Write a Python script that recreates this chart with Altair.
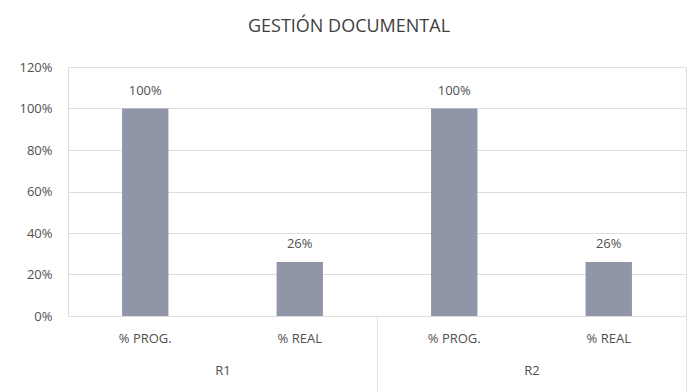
import altair as alt
import pandas as pd

groups = ["R1", "R1", "R2", "R2"]
series = ["% PROG.", "% REAL", "% PROG.", "% REAL"]
values = [1.00, 0.26, 1.00, 0.26]
value_labels = ["100%", "26%", "100%", "26%"]
group_names = ["R1", "R2"]
y_ticks = [0, 0.2, 0.4, 0.6, 0.8, 1.0, 1.2]

FONT = "Open Sans"
TXT = "#505050"
df = pd.DataFrame({"group": groups, "series": series, "value": values, "label": value_labels})
df["key"] = df["group"] + "|" + df["series"]
keys = list(df["key"])

x_scale = alt.Scale(paddingInner=0.7, paddingOuter=0.35)
x_enc = alt.X(
    "key:N",
    sort=keys,
    scale=x_scale,
    axis=alt.Axis(
        orient="bottom",
        title=None,
        labelExpr="split(datum.value, '|')[1]",
        domain=False,
        ticks=False,
        grid=False,
        gridColor="green",
        domainColor="green",
        labelAngle=0,
        labelPadding=16,
        labelFont=FONT,
        labelFontSize=13,
        labelColor=TXT,
    ),
)

y_enc = alt.Y(
    "value:Q",
    scale=alt.Scale(domain=[0, 1.2], nice=False),
    axis=alt.Axis(
        title=None,
        values=y_ticks,
        format=".0%",
        domain=False,
        domainColor="blue",
        tickColor="blue",
        ticks=False,
        labelPadding=16,
        labelFont=FONT,
        labelFontSize=13,
        labelColor=TXT,
        gridColor="#dedede",
        gridWidth=1,
    ),
)

base = alt.Chart(df)
bars = base.mark_bar(color="#9095a8").encode(x=x_enc, y=y_enc)
texts = base.mark_text(
    baseline="alphabetic", dy=-14, font=FONT, fontSize=13, color=TXT
).encode(x=x_enc, y=y_enc, text="label:N")

gdf = pd.DataFrame({"group": group_names})
group_layer = alt.Chart(gdf).mark_text(text="").encode(
    x=alt.X(
        "group:N",
        sort=group_names,
        scale=alt.Scale(paddingInner=0, paddingOuter=0),
        axis=alt.Axis(
            orient="bottom",
            title=None,
            domain=False,
            grid=False,
            gridColor="orange",
            domainColor="orange",
            tickExtra=False,
            tickSize=76,
            tickColor="#e3e3e3",
            tickOffset=154.5,
            labelOffset=-154.5,
            labelPadding=-28,
            labelAngle=0,
            labelFont=FONT,
            labelFontSize=13,
            labelColor=TXT,
        ),
    ),
)

chart = (
    alt.layer(bars + texts, group_layer)
    .resolve_scale(x="independent")
    .resolve_axis(x="independent")
    .properties(
        width=618,
        height=249,
        padding={"left": 68, "top": 67, "right": 11, "bottom": 76},
        autosize=alt.AutoSizeParams(type="none"),
        title=alt.TitleParams(
            "GESTIÓN DOCUMENTAL",
            font=FONT,
            fontSize=18,
            fontWeight="normal",
            color="#404040",
            anchor="middle",
            dx=-28,
            offset=25,
        ),
    )
    .configure_view(stroke=None, strokeWidth=0)
    .configure(background="white")
)

chart.save("out.html", embed_options={"renderer": "svg", "actions": False})
